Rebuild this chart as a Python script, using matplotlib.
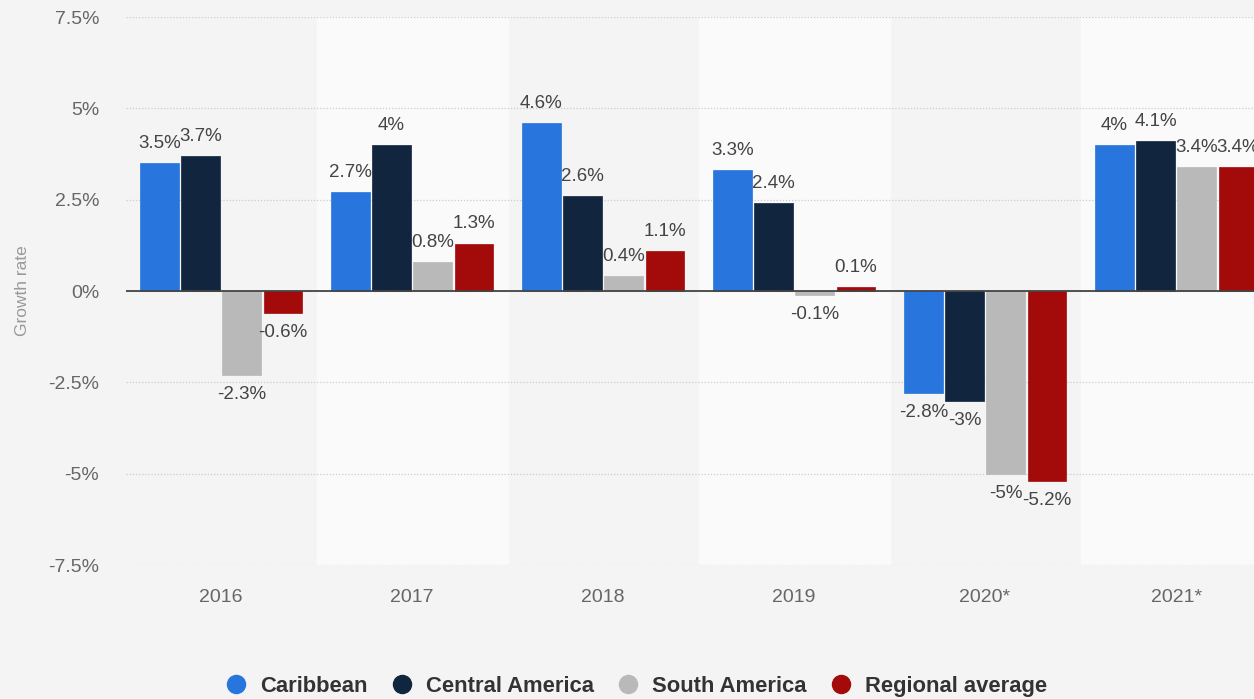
import matplotlib.pyplot as plt
import numpy as np
from matplotlib.lines import Line2D

years = ["2016", "2017", "2018", "2019", "2020*", "2021*"]
series_names = ["Caribbean", "Central America", "South America", "Regional average"]
caribbean = [3.5, 2.7, 4.6, 3.3, -2.8, 4.0]
central_america = [3.7, 4.0, 2.6, 2.4, -3.0, 4.1]
south_america = [-2.3, 0.8, 0.4, -0.1, -5.0, 3.4]
regional_average = [-0.6, 1.3, 1.1, 0.1, -5.2, 3.4]
y_ticks = [-7.5, -5, -2.5, 0, 2.5, 5, 7.5]

colors = ["#2876dd", "#11263e", "#b9b9b9", "#a30a0a"]
all_series = [caribbean, central_america, south_america, regional_average]

plt.rcParams['font.family'] = ['Liberation Sans', 'DejaVu Sans']

fig = plt.figure(figsize=(12.54, 6.99), dpi=100, facecolor="#f4f4f4")
ax = fig.add_axes([125.5 / 1254, 1 - 565 / 699, 1 - 125.5 / 1254, (565 - 17) / 699])
ax.set_facecolor("#f4f4f4")

x = np.arange(len(years))
# bandas alternas por columna
for i in x:
    if i % 2 == 1:
        ax.axvspan(i - 0.5, i + 0.5, color="#fafafa", zorder=0)

pitch = 0.215
width = 0.2
for k, (vals, col) in enumerate(zip(all_series, colors)):
    pos = x + (k - 1.5) * pitch
    bars = ax.bar(pos, vals, width, color=col, zorder=3, edgecolor=col, linewidth=0.5)
    labels = [("%g" % v) + "%" for v in vals]
    ax.bar_label(bars, labels=labels, padding=8, fontsize=13.5, color="#444444", zorder=4)

ax.set_xlim(-0.5, 5.408)
ax.set_ylim(-7.5, 7.5)
ax.set_yticks(y_ticks)
ax.set_yticklabels([("%g" % t) + "%" for t in y_ticks])
ax.set_xticks(x)
ax.set_xticklabels(years)
ax.tick_params(axis="both", length=0, labelsize=14, colors="#666666")
ax.tick_params(axis="y", pad=19)
ax.tick_params(axis="x", pad=17)
for s in ax.spines.values():
    s.set_visible(False)
ax.yaxis.grid(True, linestyle=(0, (1, 1.5)), color="#cccccc", linewidth=0.9, zorder=1)
ax.axhline(0, color="#444444", linewidth=1.3, zorder=5)
ax.set_ylabel("Growth rate", fontsize=12.5, color="#999999", labelpad=0)
ax.yaxis.set_label_coords(-0.085, 0.5)

handles = [Line2D([0], [0], marker="o", linestyle="none", markersize=13,
                  markerfacecolor=c, markeredgecolor=c) for c in colors]
fig.legend(handles, series_names, loc="center", bbox_to_anchor=(0.503, 0.018),
           ncol=4, frameon=False, handletextpad=0.1, columnspacing=0.55,
           prop={"family": ["Liberation Sans"], "weight": "bold", "size": 15.8},
           labelcolor="#333333")

fig.savefig("out.png", dpi=100, facecolor=fig.get_facecolor())
